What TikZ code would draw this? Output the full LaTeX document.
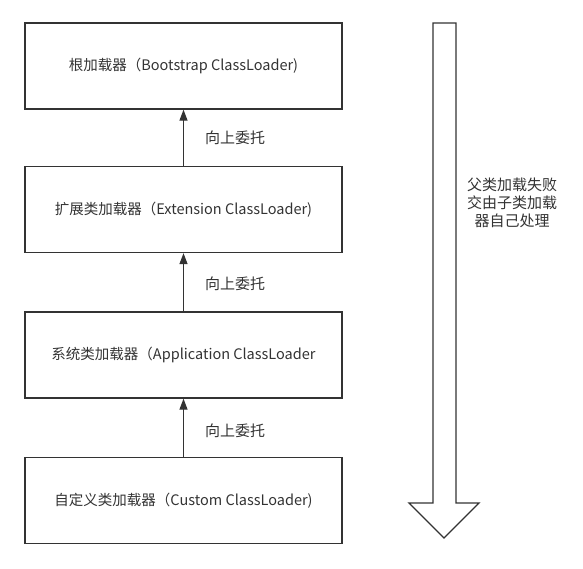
\documentclass[tikz,border=0pt]{standalone}
\usepackage{fontspec}
\setmainfont{Noto Sans CJK SC}
\usetikzlibrary{arrows.meta}
\definecolor{ink}{HTML}{333333}
\begin{document}
\begin{tikzpicture}[x=1pt,y=-1pt,
  box/.style={draw=ink,line width=1.3pt,minimum width=317pt,minimum height=86pt,inner sep=0pt,font=\fontsize{14.5}{17}\selectfont,text=ink},
  up/.style={draw=ink,line width=1.3pt,-{Triangle[width=8pt,length=11pt]}},
  lbl/.style={font=\fontsize{15}{17}\selectfont,text=ink,anchor=west,inner sep=0pt}]
\useasboundingbox (0,0) rectangle (583,568);
\node[box] (b1) at (183.5,66) {根加载器（Bootstrap ClassLoader)};
\node[box] (b2) at (183.5,209.5) {扩展类加载器（Extension ClassLoader)};
\node[box] (b3) at (183.5,355) {系统类加载器（Application ClassLoader};
\node[box] (b4) at (183.5,500.5) {自定义类加载器（Custom ClassLoader)};
\draw[up] (b2.north) -- (b1.south);
\draw[up] (b3.north) -- (b2.south);
\draw[up] (b4.north) -- (b3.south);
\node[lbl] (l1) at (205,138) {向上委托};
\node[lbl] (l2) at (205,284) {向上委托};
\node[lbl] (l3) at (205,431) {向上委托};
\draw[draw=ink,line width=1.3pt,line join=miter] (433,23) -- (456,23) -- (456,503) -- (479,503) -- (444,538) -- (409,503) -- (433,503) -- cycle;
\node[font=\fontsize{15}{18}\selectfont,text=ink,align=center,inner sep=0pt] (t) at (512,203) {父类加载失败\\交由子类加载\\器自己处理};
\end{tikzpicture}
\end{document}
